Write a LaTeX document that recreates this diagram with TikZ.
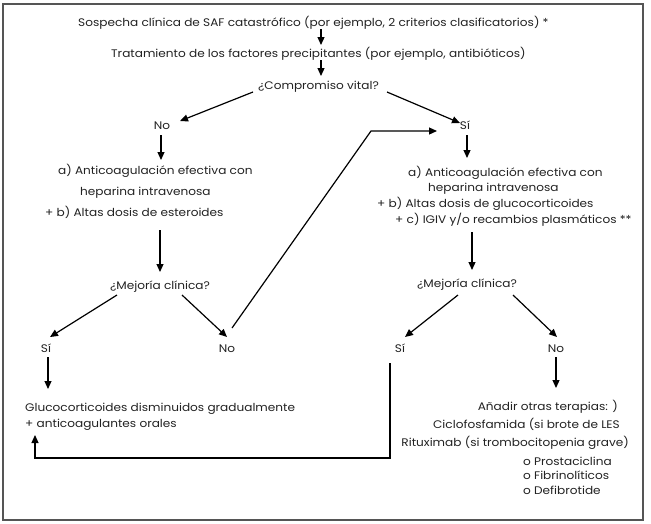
\documentclass[tikz,border=0pt]{standalone}
\usepackage{fontspec}
\setmainfont{Poppins}[FakeStretch=1.1]
\usetikzlibrary{arrows.meta}
\definecolor{txt}{HTML}{222222}
\definecolor{frm}{HTML}{555555}
\tikzset{
  lbl/.style={inner sep=0pt, text=txt, font=\fontsize{11}{13}\selectfont, anchor=base west},
  lblc/.style={lbl, anchor=base},
  lble/.style={lbl, anchor=base east},
  arr/.style={line width=1.2pt, draw=black, -{Triangle[length=8pt,width=7pt]}},
  ln/.style={line width=1.2pt, draw=black}
}
\begin{document}
\begin{tikzpicture}[x=1pt,y=-1pt]
\useasboundingbox (0,0) rectangle (651,523);
\draw[frm, line width=2pt] (3,4) rectangle (643,520);
% top
\node[lbl] (t1) at (78,26) {Sospecha clínica de SAF catastrófico (por ejemplo, 2 criterios clasificatorios) *};
\node[lbl] (t2) at (111,57) {Tratamiento de los factores precipitantes (por ejemplo, antibióticos)};
\node[lbl] (t3) at (258,89) {¿Compromiso vital?};
\node[lblc] (no1) at (162,129) {No};
\node[lblc] (si1) at (465,129) {Sí};
% left branch
\node[lbl] (la1) at (58,174) {a) Anticoagulación efectiva con};
\node[lbl] (la2) at (80,195) {heparina intravenosa};
\node[lbl] (la3) at (45,216) {+ b) Altas dosis de esteroides};
\node[lbl] (mej1) at (110,289) {¿Mejoría clínica?};
\node[lblc] (siL) at (46,352) {Sí};
\node[lblc] (noL) at (227,352) {No};
\node[lbl] (g1) at (25,411) {Glucocorticoides disminuidos gradualmente};
\node[lbl] (g2) at (25,427) {+ anticoagulantes orales};
% right branch
\node[lbl] (ra1) at (408,176) {a) Anticoagulación efectiva con};
\node[lbl] (ra2) at (428,191) {heparina intravenosa};
\node[lbl] (ra3) at (377,207) {+ b) Altas dosis de glucocorticoides};
\node[lbl] (ra4) at (395,223) {+ c) IGIV y/o recambios plasmáticos **};
\node[lbl] (mej2) at (417,287) {¿Mejoría clínica?};
\node[lblc] (siR) at (400,352) {Sí};
\node[lblc] (noR) at (556,352) {No};
\node[lble] (an1) at (618,410) {Añadir otras terapias: )};
\node[lble] (an2) at (620,428) {Ciclofosfamida (si brote de LES};
\node[lble] (an3) at (629,446) {Rituximab (si trombocitopenia grave)};
\node[lbl] (p1) at (523,465) {o Prostaciclina};
\node[lbl] (p2) at (523,479) {o Fibrinolíticos};
\node[lbl] (p3) at (523,494) {o Defibrotide};
% connector end points
\coordinate (a1s) at (321,29);  \coordinate (a1e) at (321,45);
\coordinate (a2s) at (321,60);  \coordinate (a2e) at (321,76);
\coordinate (b1s) at (253,92);  \coordinate (b1e) at (180,121);
\coordinate (b2s) at (387,92);  \coordinate (b2e) at (460,123);
\coordinate (c1s) at (161,135); \coordinate (c1e) at (161,160);
\coordinate (c2s) at (467,135); \coordinate (c2e) at (467,158);
\coordinate (d1s) at (160,230); \coordinate (d1e) at (160,272);
\coordinate (d2s) at (472,232); \coordinate (d2e) at (472,270);
\coordinate (e1s) at (117,295); \coordinate (e1e) at (50,337);
\coordinate (e2s) at (182,295); \coordinate (e2e) at (227,337);
\coordinate (e3s) at (458,295); \coordinate (e3e) at (405,337);
\coordinate (e4s) at (513,295); \coordinate (e4e) at (557,337);
\coordinate (f1s) at (48,357);  \coordinate (f1e) at (48,389);
\coordinate (f2s) at (556,357); \coordinate (f2e) at (556,388);
\coordinate (rs) at (232,328); \coordinate (rc) at (371,131); \coordinate (re) at (437,131);
\coordinate (ls) at (390,363); \coordinate (lc1) at (390,458); \coordinate (lc2) at (35,458); \coordinate (le) at (35,435);
% connectors
\draw[arr] (a1s) -- (a1e);
\draw[arr] (a2s) -- (a2e);
\draw[arr] (b1s) -- (b1e);
\draw[arr] (b2s) -- (b2e);
\draw[arr] (c1s) -- (c1e);
\draw[arr] (c2s) -- (c2e);
\draw[arr] (d1s) -- (d1e);
\draw[arr] (d2s) -- (d2e);
\draw[arr] (e1s) -- (e1e);
\draw[arr] (e2s) -- (e2e);
\draw[arr] (e3s) -- (e3e);
\draw[arr] (e4s) -- (e4e);
\draw[arr] (f1s) -- (f1e);
\draw[arr] (f2s) -- (f2e);
\draw[arr] (rs) -- (rc) -- (re);
\draw[arr] (ls) -- (lc1) -- (lc2) -- (le);
\end{tikzpicture}
\end{document}
